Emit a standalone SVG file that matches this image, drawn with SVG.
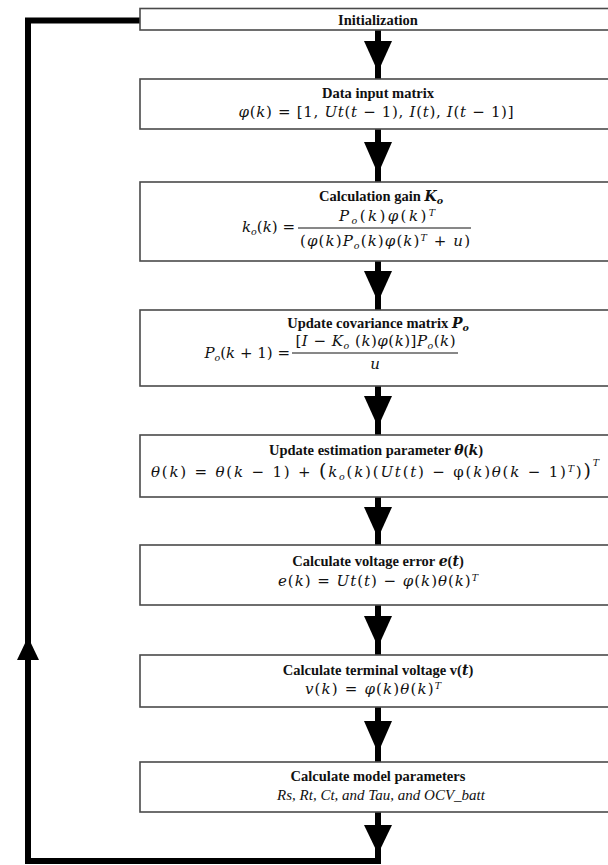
<svg xmlns="http://www.w3.org/2000/svg" width="608" height="865" viewBox="0 0 608 865">
<style>
.box{fill:#fff;stroke:#4a4a4a;stroke-width:1.6}
.t{font-family:"Liberation Serif",serif;font-weight:bold;font-size:14.5px;fill:#111;text-anchor:middle}
.it{font-family:"Liberation Serif",serif;font-style:italic;font-size:15px;fill:#111;text-anchor:middle}
.m{font-family:"DejaVu Serif",serif;font-size:15px;fill:#111}
.c{text-anchor:middle}
.e{text-anchor:end}
.i{font-style:italic}
.bi{font-family:"DejaVu Serif",serif;font-style:italic;font-weight:bold;font-size:14px}
.s{font-size:9.5px}
.ln{stroke:#000;stroke-width:6;fill:none}
.hd{fill:#000}
.bar{stroke:#111;stroke-width:1}
</style>
<g id="connectors">
  <polyline class="ln" points="140,20.5 28,20.5 28,861 381,861"/>
  <polygon class="hd" points="28,637 17,660 39,660"/>
  <line class="ln" x1="378" y1="30" x2="378" y2="79"/>
  <polygon class="hd" points="364,41 392,41 378,72"/>
  <line class="ln" x1="378" y1="129" x2="378" y2="182"/>
  <polygon class="hd" points="364,142 392,142 378,174"/>
  <line class="ln" x1="378" y1="261" x2="378" y2="310"/>
  <polygon class="hd" points="364,271 392,271 378,302"/>
  <line class="ln" x1="378" y1="386" x2="378" y2="435"/>
  <polygon class="hd" points="364,396 392,396 378,427"/>
  <line class="ln" x1="378" y1="497" x2="378" y2="545"/>
  <polygon class="hd" points="364,507 392,507 378,538"/>
  <line class="ln" x1="378" y1="605" x2="378" y2="655"/>
  <polygon class="hd" points="364,616 392,616 378,647"/>
  <line class="ln" x1="378" y1="707" x2="378" y2="762"/>
  <polygon class="hd" points="364,721 392,721 378,753"/>
  <line class="ln" x1="378" y1="812" x2="378" y2="861"/>
  <polygon class="hd" points="364,825 392,825 378,854"/>
</g>
<g id="init">
  <rect class="box" x="140" y="8.5" width="480" height="21.5"/>
  <text class="t" x="378" y="24.5">Initialization</text>
</g>
<g id="data-input">
  <rect class="box" x="140" y="79" width="480" height="50"/>
  <text class="t" x="378" y="97.5">Data input matrix</text>
  <text class="m c" x="376" y="117" textLength="275" lengthAdjust="spacing"><tspan class="i">φ</tspan>(<tspan class="i">k</tspan>) = [1, <tspan class="i">Ut</tspan>(<tspan class="i">t</tspan> − 1), <tspan class="i">I</tspan>(<tspan class="i">t</tspan>), <tspan class="i">I</tspan>(<tspan class="i">t</tspan> − 1)]</text>
</g>
<g id="gain">
  <rect class="box" x="140" y="182" width="480" height="79"/>
  <text class="t" x="381" y="200.5">Calculation gain <tspan class="bi">K</tspan><tspan class="bi s" dy="3">o</tspan></text>
  <text class="m e" x="295" y="232"><tspan class="i">k</tspan><tspan class="i s" dy="3">o</tspan><tspan dy="-3">(</tspan><tspan class="i">k</tspan>) =</text>
  <text class="m c" x="387" y="221" textLength="96" lengthAdjust="spacing"><tspan class="i">P</tspan><tspan class="i s" dy="3">o</tspan><tspan dy="-3">(</tspan><tspan class="i">k</tspan>)<tspan class="i">φ</tspan>(<tspan class="i">k</tspan>)<tspan class="i s" dy="-5">T</tspan></text>
  <line class="bar" x1="298" y1="228" x2="471" y2="228"/>
  <text class="m c" x="385" y="246" textLength="170" lengthAdjust="spacing">(<tspan class="i">φ</tspan>(<tspan class="i">k</tspan>)<tspan class="i">P</tspan><tspan class="i s" dy="3">o</tspan><tspan dy="-3">(</tspan><tspan class="i">k</tspan>)<tspan class="i">φ</tspan>(<tspan class="i">k</tspan>)<tspan class="i s" dy="-5">T</tspan><tspan dy="5"> + </tspan><tspan class="i">u</tspan>)</text>
</g>
<g id="covariance">
  <rect class="box" x="140" y="310" width="480" height="76"/>
  <text class="t" x="378" y="328">Update covariance matrix <tspan class="bi">P</tspan><tspan class="bi s" dy="3">o</tspan></text>
  <text class="m e" x="290" y="357.5"><tspan class="i">P</tspan><tspan class="i s" dy="3">o</tspan><tspan dy="-3">(</tspan><tspan class="i">k</tspan> + 1) =</text>
  <text class="m c" x="375.5" y="346" textLength="160" lengthAdjust="spacing">[<tspan class="i">I</tspan> − <tspan class="i">K</tspan><tspan class="i s" dy="3">o</tspan><tspan dy="-3"> (</tspan><tspan class="i">k</tspan>)<tspan class="i">φ</tspan>(<tspan class="i">k</tspan>)]<tspan class="i">P</tspan><tspan class="i s" dy="3">o</tspan><tspan dy="-3">(</tspan><tspan class="i">k</tspan>)</text>
  <line class="bar" x1="292" y1="353" x2="458" y2="353"/>
  <text class="m c i" x="375" y="369">u</text>
</g>
<g id="estimation">
  <rect class="box" x="140" y="435" width="480" height="62"/>
  <text class="t" x="376" y="454.5">Update estimation parameter <tspan class="bi">θ</tspan>(<tspan class="bi">k</tspan>)</text>
  <text class="m c" x="375" y="477" textLength="448" lengthAdjust="spacing"><tspan class="i">θ</tspan>(<tspan class="i">k</tspan>) = <tspan class="i">θ</tspan>(<tspan class="i">k</tspan> − 1) + <tspan font-size="19">(</tspan><tspan class="i">k</tspan><tspan class="i s" dy="3">o</tspan><tspan dy="-3">(</tspan><tspan class="i">k</tspan>)(<tspan class="i">Ut</tspan>(<tspan class="i">t</tspan>) − φ(<tspan class="i">k</tspan>)<tspan class="i">θ</tspan>(<tspan class="i">k</tspan> − 1)<tspan class="i s" dy="-5">T</tspan><tspan dy="5">)</tspan><tspan font-size="19">)</tspan><tspan class="i s" dy="-11">T</tspan></text>
</g>
<g id="voltage-error">
  <rect class="box" x="140" y="545" width="480" height="60"/>
  <text class="t" x="378" y="565.5">Calculate voltage error <tspan class="bi">e</tspan>(<tspan class="bi">t</tspan>)</text>
  <text class="m c" x="378" y="585.5" textLength="200" lengthAdjust="spacing"><tspan class="i">e</tspan>(<tspan class="i">k</tspan>) = <tspan class="i">Ut</tspan>(<tspan class="i">t</tspan>) − <tspan class="i">φ</tspan>(<tspan class="i">k</tspan>)<tspan class="i">θ</tspan>(<tspan class="i">k</tspan>)<tspan class="i s" dy="-5">T</tspan></text>
</g>
<g id="terminal-voltage">
  <rect class="box" x="140" y="655" width="480" height="52"/>
  <text class="t" x="378" y="674.5">Calculate terminal voltage v(<tspan class="bi">t</tspan>)</text>
  <text class="m c" x="373" y="693.5" textLength="136" lengthAdjust="spacing"><tspan class="i">v</tspan>(<tspan class="i">k</tspan>) = <tspan class="i">φ</tspan>(<tspan class="i">k</tspan>)<tspan class="i">θ</tspan>(<tspan class="i">k</tspan>)<tspan class="i s" dy="-5">T</tspan></text>
</g>
<g id="model-parameters">
  <rect class="box" x="140" y="762" width="480" height="50"/>
  <text class="t" x="378" y="781">Calculate model parameters</text>
  <text class="it" x="381" y="800">Rs, Rt, Ct, and Tau, and OCV_batt</text>
</g>
</svg>
